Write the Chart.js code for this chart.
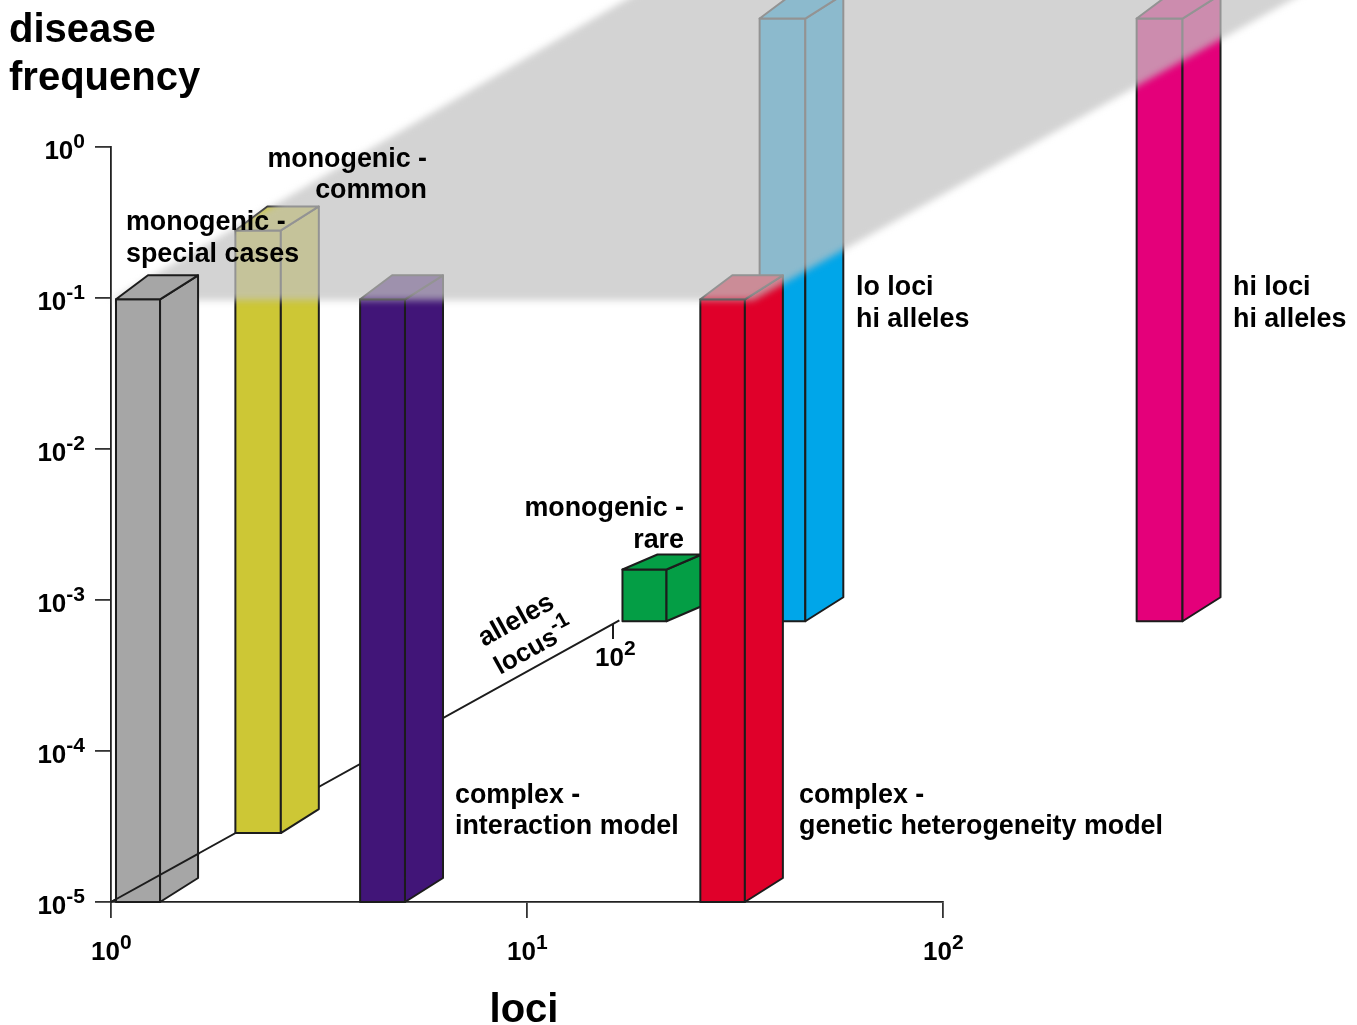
<!DOCTYPE html>
<html>
<head>
<meta charset="utf-8">
<script src="https://cdn.jsdelivr.net/npm/chart.js@4"></script>
<style>
  html, body { margin: 0; padding: 0; background: #fff; }
  canvas { display: block; filter: blur(0.5px); }
</style>
</head>
<body>
<canvas id="myChart" width="1357" height="1025"></canvas>
<script>
// values, one entry per column
const names      = ['special cases', 'common', 'interaction', 'rare', 'lo loci', 'genetic het', 'hi loci'];
const lociLeft   = [1.028, 1.0, 3.97, 1.025, 2.19, 26.1, 17.65];
const lociRight  = [1.312, 1.286, 5.09, 1.308, 2.82, 33.4, 22.75];
const alleles    = [1, 3.13, 1, 104.7, 104.7, 1, 104.7];
const freqLow    = [1e-5, 1e-5, 1e-5, 1e-5, 1e-5, 1e-5, 1e-5];
const freqHigh   = [0.098, 0.098, 0.098, 2.2e-5, 0.098, 0.098, 0.098];
const colours    = ['#a6a6a6', '#cdc735', '#411578', '#049e45', '#00a6e9', '#e0002a', '#e4007a'];

// grey plane at about 10% frequency, it narrows a bit towards the back
const planeNearLoci = [1, 35];
const planeFarLoci  = [0.83, 34];
const planeFreq     = 0.0965;
const planeAlleles  = [1, 400];

const lociTicks    = [1, 10, 100];
const freqTicks    = [1e-5, 1e-4, 1e-3, 1e-2, 1e-1, 1];
const alleleAxis   = [1, 106];
const alleleOverGrey = [1, 2.25];
const alleleTick   = 100;

// pixels per decade of alleles, this axis is only a projection
const DEPTH_X = 251, DEPTH_Y = 139;
// box side offset, the back left corner sits a little closer
const BOX = { x: 38, y: 24, backLeft: 32 };
const SHORT_BOX = { x: 35, y: 15, backLeft: 35 };
const EDGE = 2;

function project(chart, x, y, a) {
    const d = Math.log10(a);
    return [chart.scales.x.getPixelForValue(x) + DEPTH_X * d,
            chart.scales.y.getPixelForValue(y) - DEPTH_Y * d];
}

function poly(ctx, pts, fill, stroke, w) {
    ctx.beginPath();
    pts.forEach((p, i) => i ? ctx.lineTo(p[0], p[1]) : ctx.moveTo(p[0], p[1]));
    ctx.closePath();
    if (fill) { ctx.fillStyle = fill; ctx.fill(); }
    if (stroke) { ctx.strokeStyle = stroke; ctx.lineWidth = w; ctx.lineJoin = 'round'; ctx.stroke(); }
}

class BoxController extends Chart.ScatterController {
    draw() {
        const chart = this.chart, ctx = chart.ctx, ds = this.getDataset();
        const d = ds.data;
        ctx.save();
        if (ds.kind === 'box') {
            const [x0, y0] = project(chart, d[0].x, d[0].y, ds.alleles);
            const [x1, y1] = project(chart, d[1].x, d[1].y, ds.alleles);
            const s = ds.shape;
            const edge = '#1c1c1c';
            poly(ctx, [[x0, y0], [x1, y0], [x1, y1], [x0, y1]], ds.colour, edge, EDGE);
            poly(ctx, [[x1, y0], [x1 + s.x, y0 - s.y], [x1 + s.x, y1 - s.y], [x1, y1]], ds.colour, edge, EDGE);
            poly(ctx, [[x0, y1], [x1, y1], [x1 + s.x, y1 - s.y], [x0 + s.backLeft, y1 - s.y]], ds.colour, edge, EDGE);
        } else if (ds.kind === 'plane') {
            const p = [
                project(chart, d[0].x, d[0].y, ds.alleles[0]),
                project(chart, d[1].x, d[1].y, ds.alleles[0]),
                project(chart, d[3].x, d[3].y, ds.alleles[1]),
                project(chart, d[2].x, d[2].y, ds.alleles[1])
            ];
            ctx.filter = 'blur(3.5px)';
            poly(ctx, p, 'rgba(194,194,194,0.72)');
        } else {
            const s = project(chart, 1, freqTicks[0], ds.alleles[0]);
            const e = project(chart, 1, freqTicks[0], ds.alleles[1]);
            ctx.strokeStyle = '#1c1c1c';
            ctx.lineWidth = EDGE;
            ctx.beginPath();
            ctx.moveTo(s[0], s[1]);
            ctx.lineTo(e[0], e[1]);
            if (ds.tick) {
                const t = project(chart, 1, freqTicks[0], ds.tick);
                ctx.moveTo(t[0], t[1]);
                ctx.lineTo(t[0], t[1] + 15);
            }
            ctx.stroke();
        }
        ctx.restore();
    }
}
BoxController.id = 'box3d';
BoxController.defaults = Chart.ScatterController.defaults;
Chart.register(BoxController);

function boxDataset(i) {
    return {
        type: 'box3d', kind: 'box', label: names[i], alleles: alleles[i], colour: colours[i], clip: false,
        shape: names[i] === 'rare' ? SHORT_BOX : BOX,
        pointRadius: 0,
        data: [{x: lociLeft[i], y: freqLow[i]}, {x: lociRight[i], y: freqHigh[i]}]
    };
}
function axisDataset(range, tick) {
    return {
        type: 'box3d', kind: 'axis', label: 'alleles axis', alleles: range, tick: tick, clip: false,
        pointRadius: 0, data: [{x: 1, y: freqTicks[0]}]
    };
}

// painting order, back to front. chart.js paints the last dataset first so it gets reversed below
const paint = [
    axisDataset(alleleAxis, alleleTick),
    boxDataset(1), boxDataset(2), boxDataset(3), boxDataset(4), boxDataset(5), boxDataset(6),
    {
        type: 'box3d', kind: 'plane', label: 'plane', alleles: planeAlleles, clip: false, pointRadius: 0,
        data: [
            {x: planeNearLoci[0], y: planeFreq}, {x: planeNearLoci[1], y: planeFreq},
            {x: planeFarLoci[0], y: planeFreq}, {x: planeFarLoci[1], y: planeFreq}
        ]
    },
    boxDataset(0),
    axisDataset(alleleOverGrey)
];

const BODY = 'bold 26.85px "Liberation Sans"';
const TICK = 'bold 26px "Liberation Sans"';
const SUP  = 'bold 21px "Liberation Sans"';
const TITLE = 'bold 40px "Liberation Sans"';
const notes = [
    ['disease', 9, 42, 'left', TITLE],
    ['frequency', 9, 90, 'left', TITLE],
    ['loci', 524, 1022, 'center', TITLE],
    ['monogenic -', 427, 167, 'right', BODY],
    ['common', 427, 198, 'right', BODY],
    ['monogenic -', 126, 230, 'left', BODY],
    ['special cases', 126, 262, 'left', BODY],
    ['monogenic -', 684, 516, 'right', BODY],
    ['rare', 684, 548, 'right', BODY],
    ['lo loci', 856, 295, 'left', BODY],
    ['hi alleles', 856, 327, 'left', BODY],
    ['hi loci', 1233, 295, 'left', BODY],
    ['hi alleles', 1233, 327, 'left', BODY],
    ['complex -', 455, 803, 'left', BODY],
    ['interaction model', 455, 834, 'left', BODY],
    ['complex -', 799, 803, 'left', BODY],
    ['genetic heterogeneity model', 799, 834, 'left', BODY]
];

function supText(ctx, base, sup, x, y) {
    ctx.font = TICK;
    ctx.textAlign = 'left';
    ctx.fillText(base, x, y);
    const w = ctx.measureText(base).width;
    ctx.font = SUP;
    ctx.fillText(sup, x + w, y - 11);
}
function supWidth(ctx, base, sup) {
    ctx.font = TICK;
    const w = ctx.measureText(base).width;
    ctx.font = SUP;
    return w + ctx.measureText(sup).width;
}

const textPlugin = {
    id: 'textPlugin',
    afterDraw(chart) {
        const ctx = chart.ctx;
        ctx.save();
        ctx.fillStyle = '#000';
        ctx.textBaseline = 'alphabetic';
        chart.scales.y.ticks.forEach(t => {
            const exp = String(Math.round(Math.log10(t.value)));
            const py = chart.scales.y.getPixelForValue(t.value);
            supText(ctx, '10', exp, 85 - supWidth(ctx, '10', exp), py + 12);
        });
        chart.scales.x.ticks.forEach(t => {
            const exp = String(Math.round(Math.log10(t.value)));
            const px = chart.scales.x.getPixelForValue(t.value);
            supText(ctx, '10', exp, px - 20, 960);
        });
        const at = project(chart, 1, freqTicks[0], alleleTick);
        supText(ctx, '10', '2', at[0] - 18, 666);

        notes.forEach(n => {
            ctx.font = n[4];
            ctx.textAlign = n[3];
            ctx.fillText(n[0], n[1], n[2]);
        });

        ctx.save();
        ctx.translate(484, 647);
        ctx.rotate(-29 * Math.PI / 180);
        ctx.font = BODY;
        ctx.textAlign = 'left';
        ctx.fillText('alleles', 0, 0);
        ctx.restore();
        ctx.save();
        ctx.translate(500, 675);
        ctx.rotate(-29 * Math.PI / 180);
        supText(ctx, 'locus', '-1', 0, 0);
        ctx.restore();
        ctx.restore();
    }
};

var ctx = document.getElementById('myChart').getContext('2d');
var myChart = new Chart(ctx, {
    type: 'scatter',
    data: { datasets: paint.slice().reverse() },
    plugins: [textPlugin],
    options: {
        responsive: false,
        animation: false,
        events: [],
        layout: { padding: { left: 95, right: 414, top: 147, bottom: 107 } },
        plugins: { legend: { display: false }, tooltip: { enabled: false } },
        scales: {
            x: {
                type: 'logarithmic', min: 1, max: 100,
                afterBuildTicks: s => { s.ticks = lociTicks.map(v => ({value: v})); },
                grid: { drawOnChartArea: false, tickLength: 16, tickColor: '#333', lineWidth: 1.8 },
                border: { color: '#222', width: 1.8 },
                ticks: { display: false, callback: v => '10^' + Math.log10(v) }
            },
            y: {
                type: 'logarithmic', min: 1e-5, max: 1,
                afterBuildTicks: s => { s.ticks = freqTicks.map(v => ({value: v})); },
                grid: { drawOnChartArea: false, tickLength: 16, tickColor: '#333', lineWidth: 1.8 },
                border: { color: '#222', width: 1.8 },
                ticks: { display: false, callback: v => '10^' + Math.round(Math.log10(v)) }
            }
        }
    }
});
</script>
</body>
</html>
